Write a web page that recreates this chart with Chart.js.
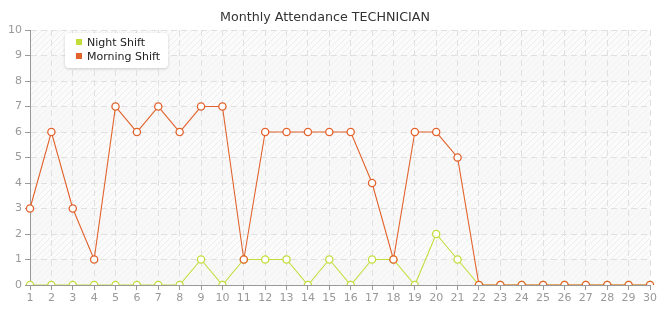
<!DOCTYPE html>
<html>
<head>
<meta charset="utf-8">
<script src="https://cdn.jsdelivr.net/npm/chart.js@4"></script>
<style>
    html, body { margin: 0; padding: 0; background: #fff; }
    #wrap { position: relative; width: 665px; height: 320px; }
    #legend {
        position: absolute; left: 65px; top: 33px; width: 103px; height: 35px;
        background: #fff; border-radius: 4px;
        box-shadow: 0 1px 3px rgba(0,0,0,0.18);
        font: 11px "DejaVu Sans", sans-serif; color: #222;
    }
    #legend div { position: absolute; left: 11px; white-space: nowrap; }
    #legend span { display: inline-block; width: 6px; height: 6px; margin-right: 5px; vertical-align: 1px; }
</style>
</head>
<body>
<div id="wrap">
    <canvas id="chart" width="665" height="320"></canvas>
    <div id="legend"></div>
</div>
<script>
const days = Array.from({ length: 30 }, (_, i) => String(i + 1));
const nightShift = [0,0,0,0,0,0,0,0,1,0, 1,1,1,0,1,0,1,1,0,2, 1,0,0,0,0,0,0,0,0,0];
const morningShift = [3,6,3,1,7,6,7,6,7,7, 1,6,6,6,6,6,4,1,6,6, 5,0,0,0,0,0,0,0,0,0];
const seriesNames = ['Night Shift', 'Morning Shift'];
const seriesColors = ['#c3dd3c', '#e2622c'];

// 斜線底紋
function hatchPattern(ctx) {
    const c = document.createElement('canvas');
    c.width = 6; c.height = 6;
    const p = c.getContext('2d');
    p.fillStyle = '#fbfbfb';
    p.fillRect(0, 0, 6, 6);
    p.strokeStyle = '#eeeeee';
    p.lineWidth = 1;
    p.beginPath();
    p.moveTo(0, 6); p.lineTo(6, 0);
    p.moveTo(-1, 1); p.lineTo(1, -1);
    p.moveTo(5, 7); p.lineTo(7, 5);
    p.stroke();
    return ctx.createPattern(c, 'repeat');
}

const bgPlugin = {
    id: 'bg',
    beforeDraw(chart) {
        const { ctx, chartArea: a, scales: { y } } = chart;
        ctx.save();
        ctx.fillStyle = hatchPattern(ctx);
        ctx.fillRect(a.left, a.top, a.right - a.left, a.bottom - a.top);
        // 間隔色帶
        ctx.fillStyle = 'rgba(246,246,246,0.55)';
        for (let v = 0; v < 10; v += 2) {
            const top = y.getPixelForValue(v + 1), bot = y.getPixelForValue(v);
            ctx.fillRect(a.left, top, a.right - a.left, bot - top);
        }
        ctx.restore();
    }
};

new Chart(document.getElementById('chart'), {
    type: 'line',
    data: {
        labels: days,
        datasets: [
            {
                label: seriesNames[0],
                data: nightShift,
                borderColor: seriesColors[0],
                backgroundColor: '#fff',
                borderWidth: 1.1,
                pointRadius: 3.6,
                pointBorderWidth: 1.3,
                pointBackgroundColor: '#fff',
                order: 1,
                tension: 0
            },
            {
                label: seriesNames[1],
                data: morningShift,
                borderColor: seriesColors[1],
                backgroundColor: '#fff',
                borderWidth: 1.1,
                pointRadius: 3.6,
                pointBorderWidth: 1.3,
                pointBackgroundColor: '#fff',
                order: 0,
                tension: 0
            }
        ]
    },
    options: {
        responsive: false,
        animation: false,
        layout: { padding: { left: 0, right: 15, top: 0, bottom: 0 } },
        plugins: {
            legend: { display: false },
            tooltip: { enabled: false },
            title: {
                display: true,
                text: 'Monthly Attendance TECHNICIAN',
                color: '#333',
                font: { family: 'DejaVu Sans', size: 12.7, weight: 'normal' },
                padding: { top: 10, bottom: 4.8 }
            }
        },
        scales: {
            x: {
                offset: false,
                grid: { color: '#e0e0e0', tickColor: '#999', tickLength: 5 },
                border: { color: '#999', dash: [6, 4] },
                ticks: { color: '#999', font: { family: 'DejaVu Sans', size: 11 }, padding: 2, maxRotation: 0, autoSkip: false },
                afterFit(s) { s.height = 35; }
            },
            y: {
                min: 0, max: 10,
                grid: { color: '#e0e0e0', tickColor: '#999', tickLength: 5 },
                border: { color: '#999', dash: [6, 4] },
                ticks: { stepSize: 1, color: '#999', font: { family: 'DejaVu Sans', size: 11 }, padding: 3 },
                afterFit(s) { s.width = 30; }
            }
        }
    },
    plugins: [bgPlugin]
});

// 圖例放在圖內左上
const legend = document.getElementById('legend');
seriesNames.forEach((name, i) => {
    const row = document.createElement('div');
    row.style.top = (3 + i * 14) + 'px';
    row.innerHTML = `<span style="background:${seriesColors[i]}"></span>${name}`;
    legend.appendChild(row);
});
</script>
</body>
</html>
